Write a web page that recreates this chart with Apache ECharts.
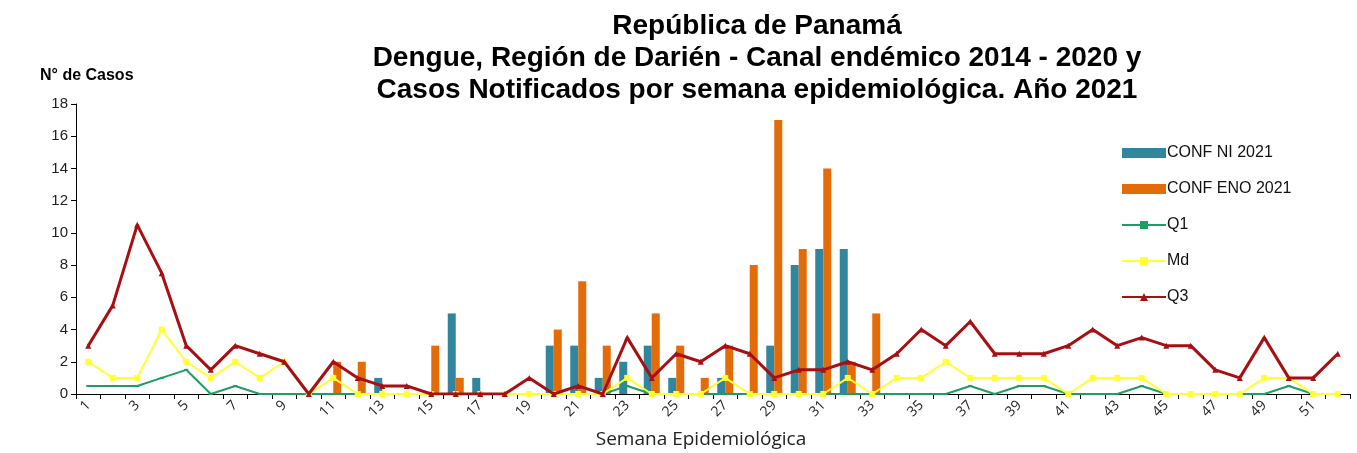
<!DOCTYPE html>
<html>
<head>
<meta charset="utf-8">
<script src="https://cdn.jsdelivr.net/npm/echarts@6/dist/echarts.min.js"></script>
<style>
html,body{margin:0;padding:0;background:#fff;}
#chart{width:1357px;height:453px;}
</style>
</head>
<body>
<div id="chart"></div>
<script>
const weeks = Array.from({length: 52}, (_, i) => String(i + 1));
const confNI = [0,0,0,0,0,0,0,0,0,0, 0,0,1,0,0,5,1,0,0,3, 3,1,2,3,1,0,1,0,3,8, 9,9,0,0,0,0,0,0,0,0, 0,0,0,0,0,0,0,0,0,0, 0,0];
const confENO = [0,0,0,0,0,0,0,0,0,0, 2,2,0,0,3,1,0,0,0,4, 7,3,0,5,3,1,3,8,17,9, 14,2,5,0,0,0,0,0,0,0, 0,0,0,0,0,0,0,0,0,0, 0,0];
const q1 = [0.5,0.5,0.5,1,1.5,0,0.5,0,0,0, 0,0,0,0,0,0,0,0,0,0, 0,0,0.5,0,0,0,0,0,0,0, 0,0,0,0,0,0,0.5,0,0.5,0.5, 0,0,0,0.5,0,0,0,0,0,0.5, 0,0];
const md = [2,1,1,4,2,1,2,1,2,0, 1,0,0,0,0,0,0,0,0,0, 0,0,1,0,0,0,1,0,0,0, 0,1,0,1,1,2,1,1,1,1, 0,1,1,1,0,0,0,0,1,1, 0,0];
const q3 = [3,5.5,10.5,7.5,3,1.5,3,2.5,2,0, 2,1,0.5,0.5,0,0,0,0,1,0, 0.5,0,3.5,1,2.5,2,3,2.5,1,1.5, 1.5,2,1.5,2.5,4,3,4.5,2.5,2.5,2.5, 3,4,3,3.5,3,3,1.5,1,3.5,1, 1,2.5];
const titleLines = ['República de Panamá', 'Dengue, Región de Darién - Canal endémico 2014 - 2020 y', 'Casos Notificados por semana epidemiológica. Año 2021'];
const yTicks = {min: 0, max: 18, interval: 2};

const chart = echarts.init(document.getElementById('chart'), null, {renderer: 'canvas'});
chart.setOption({
  backgroundColor: '#fff',
  animation: false,
  title: {
    text: titleLines.join('\n'),
    left: 752, top: 5, textAlign: 'center',
    textStyle: {fontFamily: 'Liberation Sans, Arial', fontWeight: 'bold', fontSize: 28, lineHeight: 32, color: '#000'}
  },
  legend: {
    orient: 'vertical', left: 1116, top: 140, itemGap: 20,
    itemWidth: 44, itemHeight: 10,
    textStyle: {fontFamily: 'Liberation Sans, Arial', fontSize: 16, color: '#111', padding: [0,0,0,-4]},
    data: [
      {name: 'CONF NI 2021', icon: 'rect'},
      {name: 'CONF ENO 2021', icon: 'rect'},
      'Q1', 'Md', 'Q3'
    ]
  },
  grid: {left: 76, right: 7, top: 104, bottom: 59, containLabel: false, outerBoundsMode: 'none'},
  xAxis: {
    type: 'category', data: weeks,
    name: 'Semana Epidemiológica', nameLocation: 'middle', nameGap: 36,
    nameTextStyle: {fontFamily: 'Open Sans, Noto Sans', fontSize: 19, color: '#222', padding: [0, 24, 0, 0]},
    axisLine: {lineStyle: {color: '#000', width: 1}},
    axisTick: {show: true, interval: 0, length: 5, inside: false, lineStyle: {color: '#000'}},
    axisLabel: {interval: 1, rotate: 45, fontFamily: 'Open Sans, Noto Sans', fontSize: 14, color: '#222', margin: 9}
  },
  yAxis: {
    type: 'value', min: yTicks.min, max: yTicks.max, interval: yTicks.interval,
    name: 'N° de Casos', nameLocation: 'end', nameGap: 20,
    nameTextStyle: {fontFamily: 'Liberation Sans, Arial', fontWeight: 'bold', fontSize: 16, color: '#000', align: 'left', padding: [0,0,0,-36]},
    axisLine: {show: true, lineStyle: {color: '#000', width: 1}},
    axisTick: {show: true, length: 5, lineStyle: {color: '#000'}},
    splitLine: {show: false},
    axisLabel: {fontFamily: 'Liberation Sans, Arial', fontSize: 15, color: '#222', margin: 8}
  },
  series: [
    {name: 'CONF NI 2021', type: 'bar', data: confNI, barWidth: 8, barGap: '0%', itemStyle: {color: '#31859C'}},
    {name: 'CONF ENO 2021', type: 'bar', data: confENO, barWidth: 8, barGap: '0%', itemStyle: {color: '#E36C09'}},
    {name: 'Q1', type: 'line', data: q1, symbol: 'rect', symbolSize: [4, 2], lineStyle: {color: '#1E9E63', width: 2}, itemStyle: {color: '#1E9E63'}, z: 3},
    {name: 'Md', type: 'line', data: md, symbol: 'rect', symbolSize: 6, lineStyle: {color: '#FFFF33', width: 2}, itemStyle: {color: '#FFFF33'}, z: 4},
    {name: 'Q3', type: 'line', data: q3, symbol: 'triangle', symbolSize: 6, lineStyle: {color: '#A80F13', width: 3}, itemStyle: {color: '#A80F13'}, z: 5}
  ]
});
</script>
</body>
</html>
